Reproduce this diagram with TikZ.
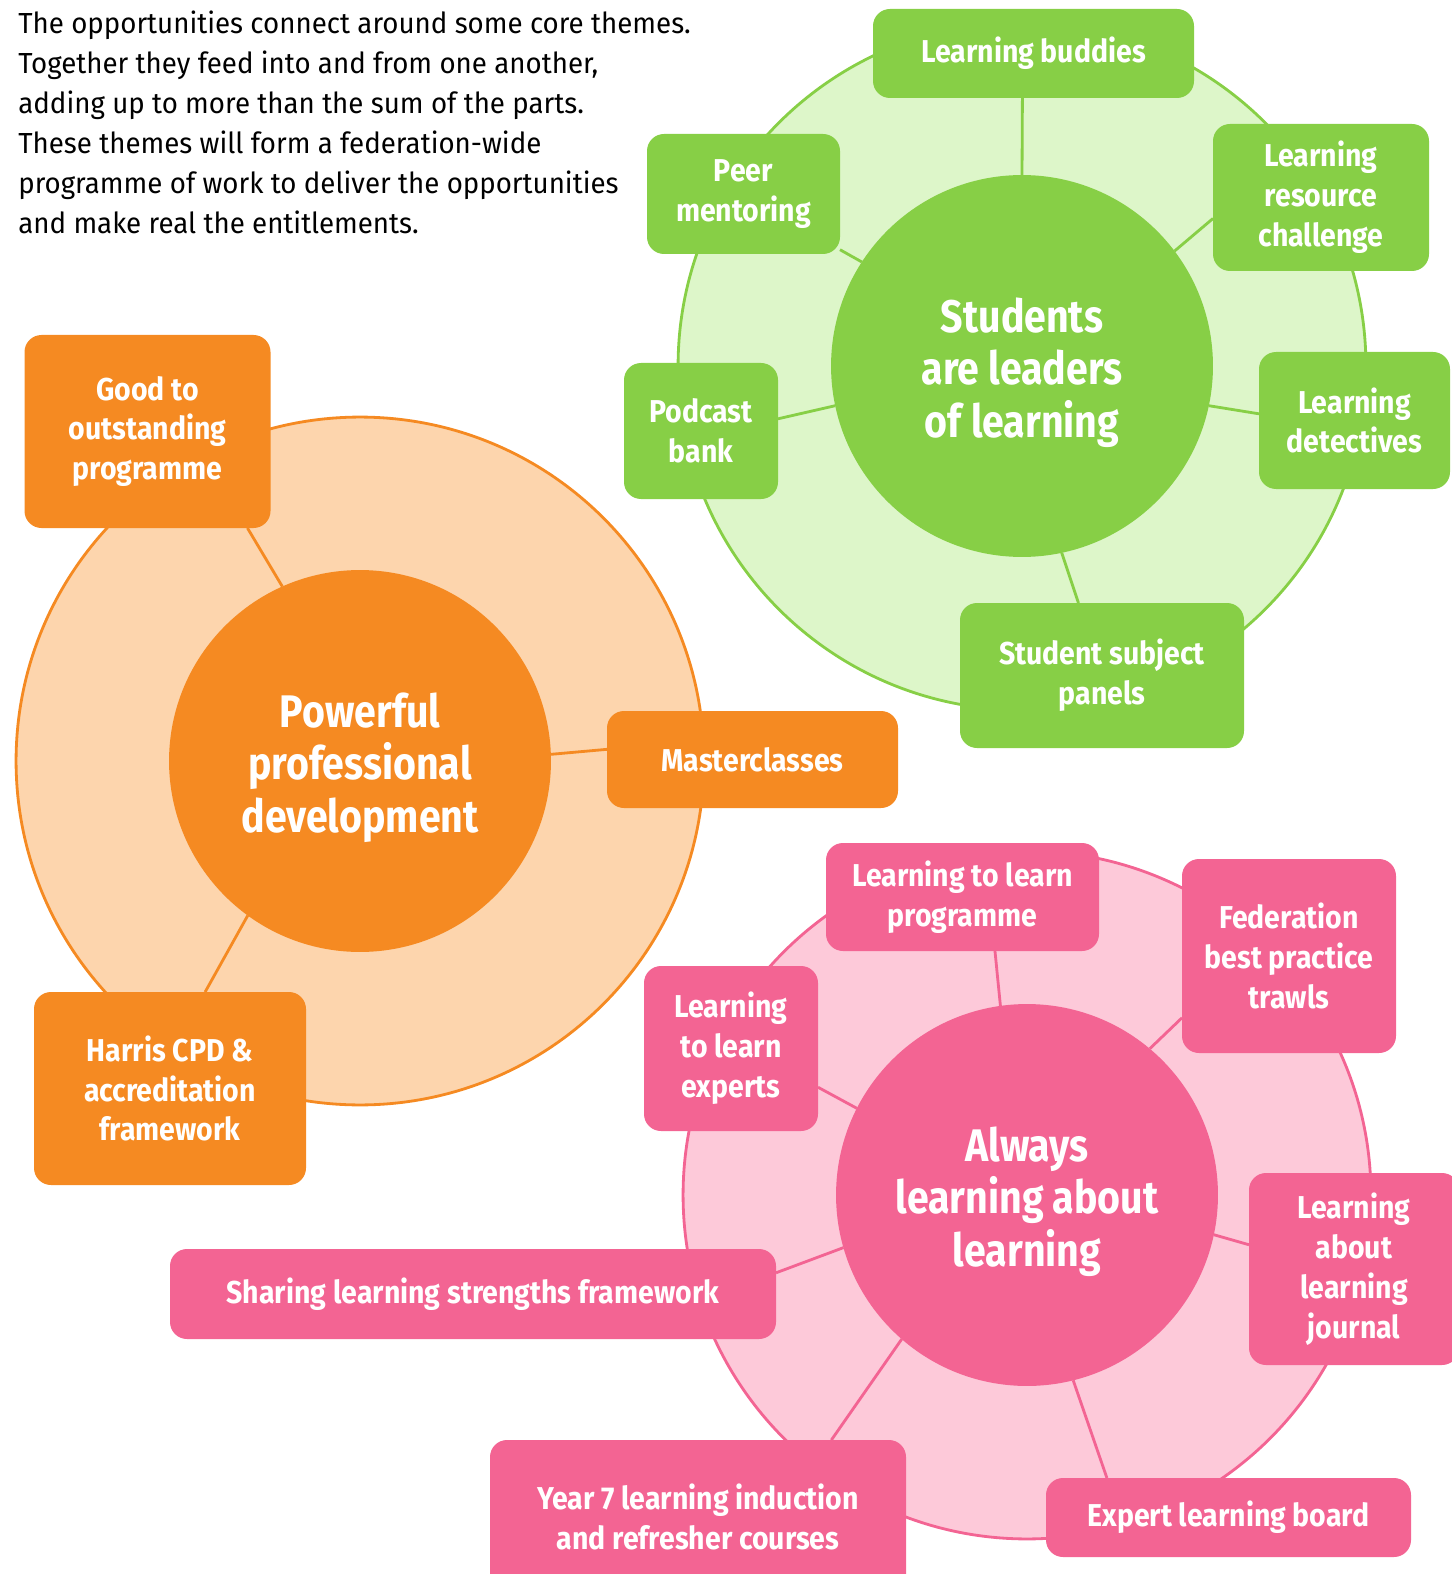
\documentclass[tikz,border=0pt]{standalone}
\usepackage{fontspec}
\setmainfont{Fira Sans}[FakeStretch=0.9]
\newfontfamily\introfont{Fira Sans}[FakeStretch=0.955]
\newfontfamily\hubfont{Fira Sans}[FakeStretch=0.86]
\definecolor{greendark}{HTML}{87CF46}
\definecolor{greenlight}{HTML}{DDF6C9}
\definecolor{orangedark}{HTML}{F58A22}
\definecolor{orangelight}{HTML}{FDD5AD}
\definecolor{pinkdark}{HTML}{F36493}
\definecolor{pinklight}{HTML}{FDC9D9}

\begin{document}
\begin{tikzpicture}[x=0.02cm, y=-0.02cm,
    ring/.style={circle, draw=#1dark, fill=#1light, line width=1.6pt, minimum size=13.76cm, inner sep=0pt, outer sep=0pt},
    hub/.style={circle, fill=#1dark, minimum size=7.64cm, inner sep=0pt, outer sep=0pt},
    hubtext/.style={text=white, align=center, yshift=-3.7pt, font=\hubfont\bfseries\fontsize{26}{30}\selectfont},
    themebox/.style={rounded corners=0.34cm, fill=#1dark, inner sep=0pt, outer sep=0pt, text=white, align=center, font=\bfseries\fontsize{18}{22.7}\selectfont},
    boxsize/.style 2 args={minimum width=#1*0.02cm, minimum height=#2*0.02cm},
    spoke/.style={draw=#1dark, line width=1.6pt}]
    \useasboundingbox (0,0) rectangle (1452,1574);

    % intro text
    \node[anchor=north west, align=left, inner sep=0pt, font=\introfont\fontsize{16.5}{22.7}\selectfont] (intro) at (18, 11)
        {The opportunities connect around some core themes.\\
         Together they feed into and from one another,\\
         adding up to more than the sum of the parts.\\
         These themes will form a federation-wide\\
         programme of work to deliver the opportunities\\
         and make real the entitlements.};

    % Students are leaders of learning
    \begin{scope}
        \node[ring=green] (gring) at (1022, 366) {};
        \node[hub=green, label={[hubtext]center:{Students\\are leaders\\of learning}}] (ghub) at (1022, 366) {};

        \node[themebox=green, boxsize={321}{89}] (bud) at (1033.5, 53.5) {Learning buddies};
        \node[themebox=green, boxsize={193}{120}] (peer) at (743.5, 194) {Peer\\mentoring};
        \node[themebox=green, boxsize={216}{147}] (res) at (1321, 197.5) {Learning\\resource\\challenge};
        \node[themebox=green, boxsize={154}{136}] (pod) at (701, 431) {Podcast\\bank};
        \node[themebox=green, boxsize={191}{137}] (det) at (1354.5, 420.5) {Learning\\detectives};
        \node[themebox=green, boxsize={284}{145}] (pan) at (1102, 675.5) {Student subject\\panels};

        \foreach \ha/\nm/\ba in {90/bud/-104.5, 147.8/peer/-30.1, 37.1/res/-169.3,
                                 192.8/pod/9.6, -12.1/det/176.3, -78.4/pan/108.1}
            \draw[spoke=green] (ghub.\ha) -- (\nm.\ba);
    \end{scope}

    % Powerful professional development
    \begin{scope}
        \node[ring=orange] (oring) at (360, 761) {};
        \node[hub=orange, label={[hubtext]center:{Powerful\\professional\\development}}] (ohub) at (360, 761) {};

        \node[themebox=orange, boxsize={246}{193}] (good) at (147.5, 431.5) {Good to\\outstanding\\programme};
        \node[themebox=orange, boxsize={291}{97}] (mast) at (752.5, 759.5) {Masterclasses};
        \node[themebox=orange, boxsize={272}{193}] (harr) at (170, 1088.5) {Harris CPD \&\\accreditation\\framework};

        \foreach \ha/\nm/\ba in {114.5/good/-44.4, 2.4/mast/176.7, -126.3/harr/70.1}
            \draw[spoke=orange] (ohub.\ha) -- (\nm.\ba);
    \end{scope}

    % Always learning about learning
    \begin{scope}
        \node[ring=pink] (pring) at (1027, 1195) {};
        \node[hub=pink, label={[hubtext]center:{Always\\learning about\\learning}}] (phub) at (1027, 1195) {};

        \node[themebox=pink, boxsize={273}{108}] (ltlp) at (962.5, 897) {Learning to learn\\programme};
        \node[themebox=pink, boxsize={214}{194}] (fed) at (1289, 956) {Federation\\best practice\\trawls};
        \node[themebox=pink, boxsize={174}{165}] (ltle) at (731, 1048.5) {Learning\\to learn\\experts};
        \node[themebox=pink, boxsize={606}{90}] (shar) at (473, 1294) {Sharing learning strengths framework};
        \node[themebox=pink, boxsize={210}{192}] (jour) at (1354, 1269) {Learning\\about\\learning\\journal};
        \node[themebox=pink, boxsize={416}{154}] (yr) at (698, 1517) {Year 7 learning induction\\and refresher courses};
        \node[themebox=pink, boxsize={365}{79}] (exp) at (1228.5, 1517.5) {Expert learning board};

        \foreach \ha/\nm/\ba in {98.7/ltlp/-59.7, 50.3/fed/-150.7, 153.8/ltle/-24.8, 196.7/shar/4.2,
                                 -12.5/jour/167.1, -131.2/yr/30.7, -76/exp/162.1}
            \draw[spoke=pink] (phub.\ha) -- (\nm.\ba);
    \end{scope}
\end{tikzpicture}
\end{document}
